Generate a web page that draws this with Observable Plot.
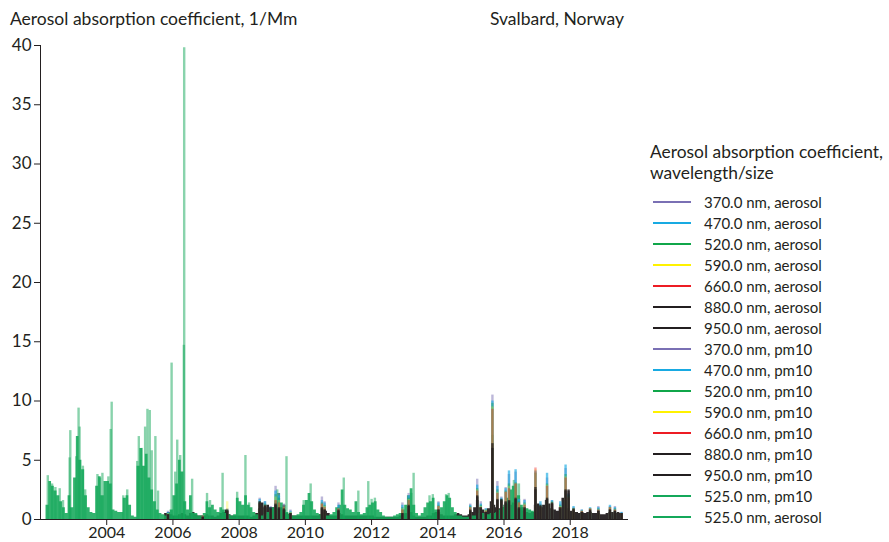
<!DOCTYPE html>
<html>
<head>
<meta charset="utf-8">
<script src="https://cdn.jsdelivr.net/npm/d3@7"></script>
<script src="https://cdn.jsdelivr.net/npm/@observablehq/plot@0.6"></script>
<style>
  html, body { margin: 0; padding: 0; background: #fff; }
  #wrap { position: relative; width: 889px; height: 542px; font-family: Lato, "Open Sans", sans-serif; color: #231f20; overflow: hidden; }
  #chart { position: absolute; left: 0; top: 0; }
  .ttl { position: absolute; font-size: 17.5px; white-space: nowrap; line-height: 20px; }
  #legend { position: absolute; left: 650px; top: 141px; }
  #legend .lt { font-size: 17.4px; line-height: 21px; white-space: nowrap; margin-bottom: 8px; }
  #legend .it { height: 21px; display: flex; align-items: center; font-size: 15px; white-space: nowrap; }
  #legend .it svg { margin-left: 3px; margin-right: 13px; }
</style>
</head>
<body>
<div id="wrap">
  <div id="chart"></div>
  <div class="ttl" style="left:10px; top:9px;">Aerosol absorption coefficient, 1/Mm</div>
  <div class="ttl" style="right:265px; top:9px;">Svalbard, Norway</div>
  <div id="legend"></div>
</div>
<script>
// ---------- data ----------
const xTicks = [2004, 2006, 2008, 2010, 2012, 2014, 2016, 2018];
const yTicks = [0, 5, 10, 15, 20, 25, 30, 35, 40];

// 525 nm aerosol: monthly typical level, starting Jan 2002 (null = no data)
const greenStart = 2002;
const greenMonthly = [
  null, null, 1.2, 3.2, 2.8, 2.4, 2.0, 1.5, 1.0, 0.5, 2.0, 1.0,   // 2002
  3.5, 7.0, 5.0, 4.2, 2.0, 1.0, 0.6, 0.5, 2.8, 3.6, 2.0, 3.2,     // 2003
  3.2, 3.0, 0.8, 0.7, 0.6, 0.6, 1.8, 2.0, 1.2, 0.3, 0.2, 4.5,     // 2004
  6.0, 4.5, 5.5, 3.5, 2.5, 1.5, 0.8, 0.5, 0.4, 0.3, 0.5, 0.8,     // 2005
  2.0, 3.0, 5.0, 4.0, 1.5, 0.8, 2.0, 0.5, 0.5, 0.3, 0.3, 0.5,     // 2006
  1.5, 1.0, 1.2, 0.8, 0.6, 1.0, 0.8, 0.5, 0.4, 0.3, 0.4, 1.8,     // 2007
  1.5, 1.2, 2.0, 1.2, 1.0, 0.6, 0.4, 0.3, 0.3, 0.4, 0.6, 0.8,     // 2008
  1.0, 1.5, 2.2, 1.4, 1.2, 0.6, 0.4, 0.3, 0.3, 0.4, 0.6, 1.2,     // 2009
  1.6, 2.2, 1.5, 0.8, 0.5, 0.4, 0.4, 0.3, 0.3, 0.4, 0.6, 1.0,     // 2010
  1.2, 2.5, 1.2, 0.9, 0.8, 0.6, 1.5, 0.6, 0.4, 0.5, 1.0, 1.2,     // 2011
  1.4, 1.5, 0.8, 0.6, 0.3, 0.2, 0.2, 0.2, 0.3, 0.4, 0.5, 0.8,     // 2012
  1.2, 2.0, 2.6, 1.2, 0.5, 0.3, 0.5, 1.0, 1.4, 1.5, 1.8, 0.8,     // 2013
  0.6, 1.0, 1.5, 2.0, 1.8, 1.0, 0.6, 0.3, 0.3, 0.2, 0.2, 0.2,     // 2014
  0.3, 0.3, 0.5, 0.8, 0.5, 0.4, 0.4, 0.5, 0.5, 0.6, 0.8, 1.0,     // 2015
  1.2, 1.8, 2.5, 2.8, 3.0, 2.0, 1.2, 1.0, 0.9, 0.8, 0.7, 0.6      // 2016
];

// 525 nm spikes (decimal year, value)
const greenSpikeT = [2002.22,2002.35,2002.45,2002.58,2002.68,2002.88,2002.9,2003.08,2003.15,2003.18,2003.28,2003.35,2003.72,2003.8,2003.87,2004.05,2004.12,2004.15,2004.5,2004.62,2004.92,2004.97,2005.06,2005.16,2005.23,2005.3,2005.36,2005.47,2005.55,2005.96,2006.07,2006.13,2006.22,2006.33,2006.34,2006.58,2007.03,2007.12,2007.5,2007.94,2008.19,2008.3,2009.15,2009.43,2009.95,2010.16,2011.16,2011.6,2011.9,2012.0,2012.1,2013.2,2013.27,2013.75,2013.85,2014.25,2014.33,2015.65,2016.3,2016.45];
const greenSpikeV = [3.7,3.0,2.7,2.6,1.6,5.2,7.5,5.3,9.4,7.8,4.5,2.5,3.8,3.5,3.9,3.6,7.6,9.9,2.0,2.5,4.9,7.0,6.0,7.8,9.3,9.2,5.8,7.0,2.4,13.2,4.0,6.7,5.4,14.7,39.8,3.4,2.2,1.6,3.9,2.3,5.4,1.4,2.5,5.3,1.6,3.0,3.5,2.4,3.2,1.7,1.8,2.2,3.9,2.0,2.1,2.1,2.2,7.1,3.3,3.0];

// 880 nm: monthly base level, starting Oct 2005
const blackStart = 2005.75;
const blackMonthly = [
  0.5, 0.6, 0.4,                                                  // 2005
  0.3, 0.3, 0.4, 0.5, 0.4, 0.3, 0.5, 0.6, 0.4, 0.3, 0.3, 0.3,     // 2006
  0.4, 0.3, 0.3, 0.2, 0.3, 0.5, 0.6, 0.8, 0.4, 0.3, 0.3, 0.3,     // 2007
  0.3, 0.3, 0.3, 0.3, 0.2, 0.3, 0.5, 0.9, 1.4, 1.0, 1.2, 1.0,     // 2008
  1.0, 1.3, 1.2, 1.0, 0.8, 0.5, 0.4, 0.3, 0.3, 0.3, 0.3, 0.3,     // 2009
  0.3, 0.3, 0.3, 0.3, 0.3, 0.4, 0.6, 0.7, 0.5, 0.3, 0.3, 0.3,     // 2010
  0.5, 0.4, 0.3, 0.3, 0.3, 0.3, 0.3, 0.3, 0.3, 0.3, 0.3, 0.3,     // 2011
  0.3, 0.2, 0.2, 0.2, 0.2, 0.2, 0.2, 0.2, 0.2, 0.2, 0.3, 0.4,     // 2012
  0.5, 0.8, 0.6, 0.3, 0.2, 0.2, 0.2, 0.2, 0.3, 0.3, 0.5, 0.6,     // 2013
  0.5, 0.4, 0.3, 0.3, 0.3, 0.3, 0.4, 0.5, 0.4, 0.3, 0.3, 0.4,     // 2014
  0.6, 1.0, 1.6, 1.0, 0.8, 0.6, 0.9, 1.5, 1.2, 1.0, 0.9, 1.0,     // 2015
  1.2, 1.3, 1.2, 1.4, 0.9, 0.8, 1.0, 0.7, 0.6, 0.5, 0.6, 1.2,     // 2016
  1.3, 1.0, 1.2, 1.6, 1.3, 0.9, 0.8, 0.7, 1.0, 1.8, 1.6, 0.9,     // 2017
  0.7, 0.6, 0.6, 0.5, 0.6, 0.5, 0.6, 0.6, 0.5, 0.5, 0.5, 0.4,     // 2018
  0.4, 0.5, 0.6, 0.6, 0.5, 0.6, 0.5, 0.3                          // 2019
];

// multi-wavelength aerosol spikes
const spikeT = [2005.85,2006.9,2007.64,2008.62,2008.78,2008.95,2009.1,2009.2,2009.35,2009.55,2010.5,2010.58,2011.0,2012.93,2013.12,2014.02,2014.98,2015.19,2015.3,2015.45,2015.65,2015.8,2015.92,2016.05,2016.15,2016.35,2016.45,2016.62,2016.95,2017.1,2017.3,2017.45,2017.7,2017.86,2017.95,2018.1,2018.35,2018.6,2018.85,2019.2,2019.35,2019.55];
const a370 = [0.7,0.3,0.9,1.8,1.5,1.1,2.8,2.2,1.3,0.8,1.9,1.5,1.4,1.4,2.2,1.5,1.3,3.4,1.5,0.9,10.5,3.2,1.9,2.7,3.8,4.0,1.7,1.7,4.0,1.3,3.5,1.6,1.3,4.3,2.2,1.0,0.8,0.9,1.1,1.1,1.1,0.6];
const a470 = [0.6,0.3,0.8,1.7,1.5,1.0,2.4,2.0,1.2,0.7,1.6,1.4,1.2,1.2,2.0,1.4,1.2,2.9,1.3,0.9,10.0,2.8,1.8,2.6,4.1,4.2,1.7,1.6,4.1,1.5,3.9,1.6,1.5,4.6,2.1,1.1,0.8,1.0,1.0,1.2,1.0,0.6];
const a520 = [0.5,0.3,0.7,1.5,1.3,0.9,2.1,1.8,1.1,0.6,1.4,1.2,1.0,1.0,1.8,1.2,1.1,2.6,1.2,0.8,9.8,2.5,1.7,2.4,3.0,3.1,1.5,1.4,3.9,1.2,3.0,1.5,1.2,3.8,2.0,0.9,0.7,0.9,0.9,1.0,0.9,0.5];
const a590 = [0.5,0.3,1.5,1.4,1.2,0.8,1.9,1.6,1.0,0.6,1.3,1.1,0.9,0.9,1.7,1.1,1.0,2.5,1.1,0.8,9.5,2.3,1.6,2.3,2.8,3.0,1.4,1.3,4.2,1.1,2.9,1.4,1.1,3.6,1.9,0.9,0.7,0.9,0.8,1.0,0.8,0.5];
const a660 = [0.4,0.3,0.7,1.3,1.1,0.8,1.6,1.4,1.2,0.5,1.3,1.0,0.9,0.8,1.6,1.1,1.0,2.4,1.0,0.7,9.3,2.2,1.5,2.3,2.6,3.0,1.4,1.2,4.35,1.0,2.8,1.3,1.0,3.5,1.8,0.8,0.7,0.9,0.8,1.0,0.8,0.5];
const a880 = [0.4,0.2,0.8,1.5,1.2,1.0,1.3,1.0,0.9,0.5,1.0,0.8,0.8,0.5,1.2,0.8,0.8,2.0,1.0,0.6,6.4,1.7,1.7,1.5,1.6,1.8,1.0,1.0,2.7,1.2,1.8,1.4,1.0,2.5,2.5,0.9,0.6,0.8,0.7,0.8,0.7,0.5];
const a950 = [0.4,0.2,0.7,1.4,1.1,0.9,1.2,0.9,0.8,0.5,0.9,0.8,0.7,0.5,1.1,0.8,0.7,1.9,0.9,0.6,6.0,1.6,1.6,1.4,1.5,1.7,0.9,0.9,2.5,1.1,1.7,1.3,0.9,2.4,2.4,0.8,0.6,0.7,0.7,0.8,0.7,0.5];

// legend
const legendLabels = ["370.0 nm, aerosol","470.0 nm, aerosol","520.0 nm, aerosol","590.0 nm, aerosol","660.0 nm, aerosol","880.0 nm, aerosol","950.0 nm, aerosol","370.0 nm, pm10","470.0 nm, pm10","520.0 nm, pm10","590.0 nm, pm10","660.0 nm, pm10","880.0 nm, pm10","950.0 nm, pm10","525.0 nm, pm10","525.0 nm, aerosol"];
const legendColors = ["#7a70b4","#18aae2","#10a64a","#fff200","#ed1c24","#231f20","#231f20","#7a70b4","#18aae2","#10a64a","#fff200","#ed1c24","#231f20","#231f20","#14a85a","#14a85a"];

// ---------- build tables ----------
const C = {p370: "#7a70b4", c470: "#18aae2", g520: "#10a64a", y590: "#fff200", r660: "#ed1c24", k: "#231f20", g525: "#14a85a"};
const greenRows = greenMonthly.map((v, i) => ({t: greenStart + i / 12, v}));
const blackRows = blackMonthly.map((v, i) => ({t: blackStart + i / 12, v}));
const greenSpikes = greenSpikeT.map((t, i) => ({t, v: greenSpikeV[i]}));
const mk = arr => spikeT.map((t, i) => ({t, v: arr[i]}));

const sw = 2.4;
const chart = Plot.plot({
  width: 640, height: 542,
  marginLeft: 40, marginRight: 13, marginTop: 45, marginBottom: 23,
  style: {fontFamily: "Lato, 'Open Sans', sans-serif", fontSize: "17px", color: "#231f20", background: "transparent"},
  x: {domain: [2002, 2019.73], ticks: xTicks, tickFormat: d => String(d), line: true, label: null, tickSize: 6, tickPadding: 1},
  y: {domain: [0, 40], ticks: yTicks, line: true, label: null, tickSize: 6, tickPadding: 3},
  marks: [
    Plot.areaY(blackRows, {x: "t", y: "v", fill: C.k, fillOpacity: 0.95, curve: "step-after"}),
    Plot.areaY(greenRows, {x: "t", y: "v", fill: C.g525, fillOpacity: 0.88, curve: "step-after"}),
    Plot.ruleX(greenSpikes, {x: "t", y1: 0, y2: "v", stroke: C.g525, strokeOpacity: 0.5, strokeWidth: sw}),
    Plot.ruleX(mk(a370), {x: "t", y1: 0, y2: "v", stroke: C.p370, strokeOpacity: 0.5, strokeWidth: sw}),
    Plot.ruleX(mk(a470), {x: "t", y1: 0, y2: "v", stroke: C.c470, strokeOpacity: 0.65, strokeWidth: sw}),
    Plot.ruleX(mk(a520), {x: "t", y1: 0, y2: "v", stroke: C.g520, strokeOpacity: 0.4, strokeWidth: sw}),
    Plot.ruleX(mk(a590), {x: "t", y1: 0, y2: "v", stroke: C.y590, strokeOpacity: 0.3, strokeWidth: sw}),
    Plot.ruleX(mk(a660), {x: "t", y1: 0, y2: "v", stroke: C.r660, strokeOpacity: 0.4, strokeWidth: sw}),
    Plot.ruleX(mk(a880), {x: "t", y1: 0, y2: "v", stroke: C.k, strokeOpacity: 0.75, strokeWidth: sw}),
    Plot.ruleX(mk(a950), {x: "t", y1: 0, y2: "v", stroke: C.k, strokeOpacity: 0.75, strokeWidth: sw})
  ]
});
chart.querySelectorAll("g[aria-label='x-axis tick label'] text, g[aria-label='x-axis'] text").forEach(t => t.style.fontSize = "16px");
document.getElementById("chart").appendChild(chart);

// ---------- legend ----------
const lg = document.getElementById("legend");
const lt = document.createElement("div");
lt.className = "lt";
lt.innerHTML = "Aerosol absorption coefficient,<br>wavelength/size";
lg.appendChild(lt);
legendLabels.forEach((lab, i) => {
  const row = document.createElement("div");
  row.className = "it";
  row.innerHTML = `<svg width="38" height="4"><line x1="0" x2="38" y1="2" y2="2" stroke="${legendColors[i]}" stroke-width="2"/></svg><span>${lab}</span>`;
  lg.appendChild(row);
});
</script>
</body>
</html>
